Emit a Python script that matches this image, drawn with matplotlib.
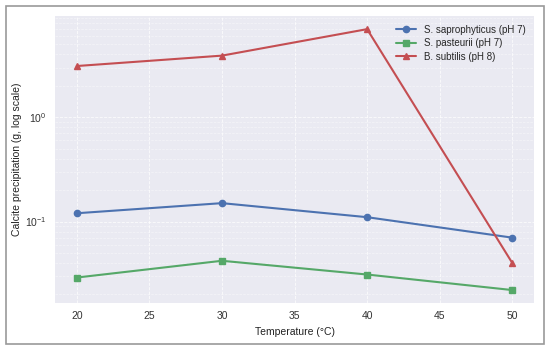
import matplotlib
matplotlib.use('Agg')
import matplotlib.pyplot as plt
from matplotlib.patches import Rectangle

# temperatures and calcite precipitation
temps = [20, 30, 40, 50]
sapro = [0.12, 0.15, 0.11, 0.07]
pasteurii = [0.029, 0.042, 0.031, 0.022]
subtilis = [3.1, 3.9, 7.0, 0.04]

plt.style.use('seaborn-v0_8-darkgrid')
plt.rcParams['font.family'] = ['Liberation Sans', 'DejaVu Sans']

fig = plt.figure(figsize=(5.5, 3.5), dpi=100)
ax = fig.add_axes([0.1, 0.134, 0.871, 0.82])

ax.plot(temps, sapro, '-o', color='#4C72B0', lw=1.5, markersize=4.5, label='S. saprophyticus (pH 7)')
ax.plot(temps, pasteurii, '-s', color='#55A868', lw=1.5, markersize=4.5, label='S. pasteurii (pH 7)')
ax.plot(temps, subtilis, '-^', color='#C44E52', lw=1.5, markersize=4.5, label='B. subtilis (pH 8)')

ax.set_yscale('log')
ax.grid(True, which='major', linestyle='--', color='white', linewidth=0.6, alpha=0.8)
ax.grid(True, which='minor', linestyle='--', color='white', linewidth=0.5, alpha=0.5)
ax.tick_params(labelsize=7.5, colors='#333333', length=0, pad=6)
ax.set_xlabel('Temperature (°C)', fontsize=7.5, color='#222222')
ax.set_ylabel('Calcite precipitation (g, log scale)', fontsize=7.5, color='#222222', labelpad=2)
ax.legend(loc='upper right', fontsize=7, frameon=False, handlelength=2.0, labelspacing=0.35)

# grey frame round the whole figure
fig.patches.append(Rectangle((0.011, 0.017), 0.978, 0.966, transform=fig.transFigure,
                             fill=False, edgecolor='#9a9a9a', linewidth=1.2))

fig.savefig('out.png', dpi=100, facecolor='white')
